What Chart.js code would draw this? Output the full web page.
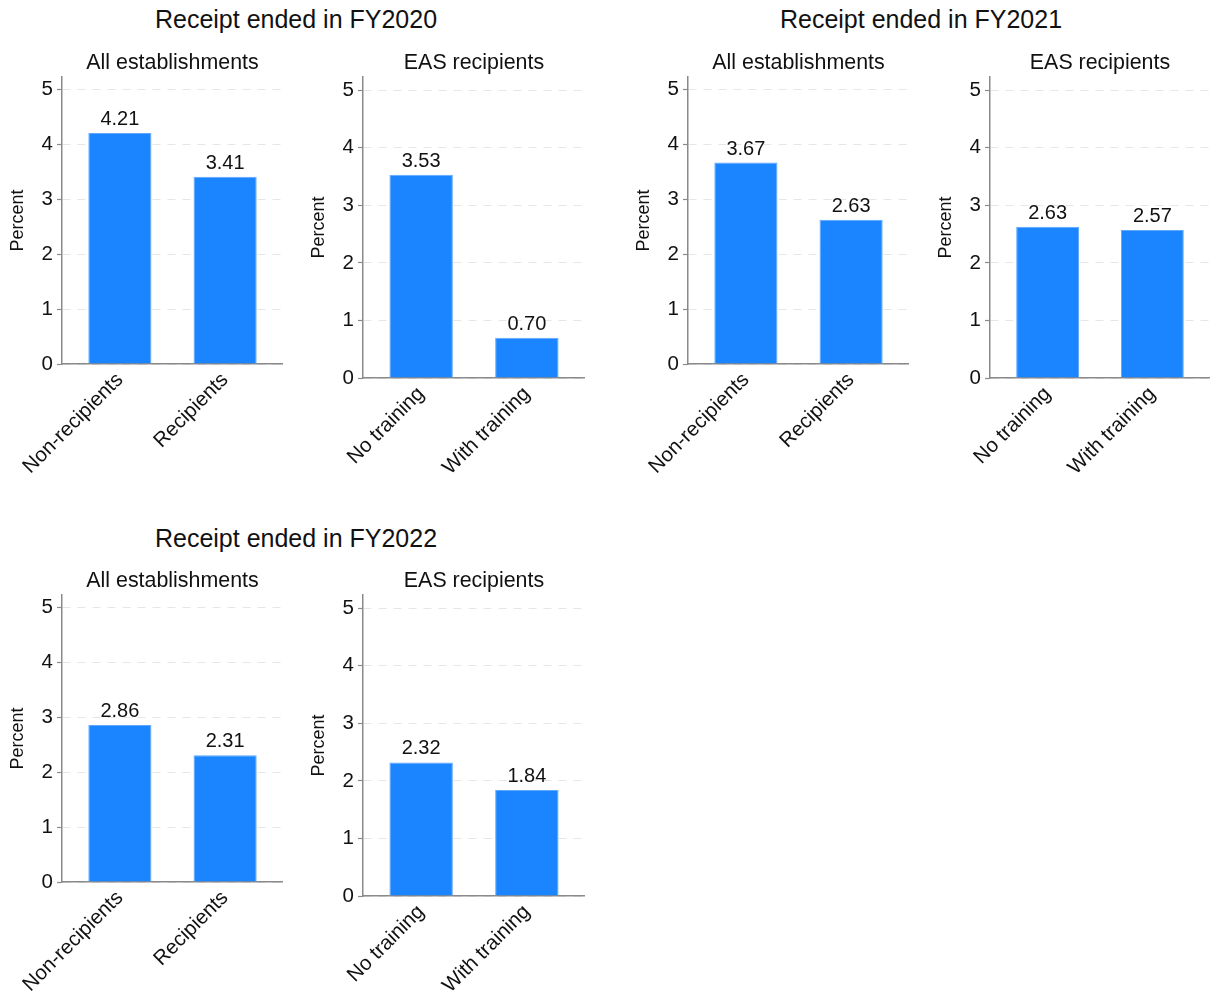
<!DOCTYPE html>
<html><head><meta charset="utf-8">
<script src="https://cdn.jsdelivr.net/npm/chart.js@4/dist/chart.umd.min.js"></script>
<style>
html,body{margin:0;padding:0;background:#fff;width:1210px;height:994px;overflow:hidden;position:relative;font-family:"Liberation Sans",Arial,Helvetica,sans-serif;}
canvas{position:absolute;}
.sup{position:absolute;font-size:25px;color:#111;white-space:nowrap;transform:translate(-50%,-50%);line-height:1;}
</style></head><body>
<script>
// ---- data ----
const groupTitles = ["Receipt ended in FY2020", "Receipt ended in FY2021", "Receipt ended in FY2022"];
const panelTitles = ["All establishments", "EAS recipients"];
const allCategories = ["Non-recipients", "Recipients"];
const easCategories = ["No training", "With training"];
const allFY2020 = [4.21, 3.41];
const easFY2020 = [3.53, 0.70];
const allFY2021 = [3.67, 2.63];
const easFY2021 = [2.63, 2.57];
const allFY2022 = [2.86, 2.31];
const easFY2022 = [2.32, 1.84];
const yTicks = [0, 1, 2, 3, 4, 5];
const yAxisTitle = "Percent";

// ---- layout (positions only) ----
const FONT = '"Liberation Sans", Arial, Helvetica, sans-serif';
Chart.defaults.font.family = FONT;
Chart.defaults.color = '#111';

const supers = [
  {text: groupTitles[0], x: 296, y: 19},
  {text: groupTitles[1], x: 921, y: 19},
  {text: groupTitles[2], x: 296, y: 538}
];
supers.forEach(s => {
  const d = document.createElement('div');
  d.className = 'sup';
  d.textContent = s.text;
  d.style.left = s.x + 'px';
  d.style.top = s.y + 'px';
  document.body.appendChild(d);
});

const panels = [
  {title: panelTitles[0], cats: allCategories, vals: allFY2020, box: [62, 283, 77, 364]},
  {title: panelTitles[1], cats: easCategories, vals: easFY2020, box: [363, 585, 77, 378]},
  {title: panelTitles[0], cats: allCategories, vals: allFY2021, box: [688, 909, 77, 364]},
  {title: panelTitles[1], cats: easCategories, vals: easFY2021, box: [990, 1210, 77, 378]},
  {title: panelTitles[0], cats: allCategories, vals: allFY2022, box: [62, 283, 595, 882]},
  {title: panelTitles[1], cats: easCategories, vals: easFY2022, box: [363, 585, 595, 896]}
];

const valueLabels = {
  id: 'valueLabels',
  afterDatasetsDraw(chart) {
    const ctx = chart.ctx;
    const meta = chart.getDatasetMeta(0);
    const ds = chart.data.datasets[0];
    ctx.save();
    ctx.font = '20px ' + FONT;
    ctx.fillStyle = '#111';
    ctx.textAlign = 'center';
    ctx.textBaseline = 'alphabetic';
    meta.data.forEach((el, i) => {
      ctx.fillText(ds.data[i].y.toFixed(2), el.x, el.y - 8);
    });
    ctx.restore();
  }
};

const Y_W = 62, TITLE_H = 40, X_H = 122;
panels.forEach(p => {
  const [L, R, T, B] = p.box;
  const cl = L - Y_W, ct = T - TITLE_H;
  const cw = R - cl, ch = B - ct + X_H;
  const cv = document.createElement('canvas');
  cv.width = cw; cv.height = ch;
  cv.style.left = cl + 'px'; cv.style.top = ct + 'px';
  cv.style.width = cw + 'px'; cv.style.height = ch + 'px';
  document.body.appendChild(cv);
  new Chart(cv, {
    type: 'bar',
    data: {
      datasets: [{
        data: p.vals.map((v, i) => ({x: i, y: v})),
        backgroundColor: '#1a85ff',
        borderColor: '#5ea8ff',
        borderWidth: 1,
        barPercentage: 0.6,
        categoryPercentage: 1
      }]
    },
    options: {
      responsive: false,
      animation: false,
      devicePixelRatio: 1,
      layout: {padding: 0},
      plugins: {
        legend: {display: false},
        tooltip: {enabled: false},
        title: {
          display: true, text: p.title, fullSize: false,
          font: {size: 21.4, weight: 'normal'}, color: '#111',
          padding: {top: 12.8, bottom: 1.5}
        }
      },
      scales: {
        x: {
          type: 'linear', min: -0.55, max: 1.55, offset: false,
          afterBuildTicks: s => { s.ticks = p.cats.map((c, i) => ({value: i})); },
          grid: {display: false, drawTicks: false, offset: false},
          border: {display: true, color: '#8a8a8a', width: 1.5},
          ticks: {
            minRotation: 45, maxRotation: 45, padding: 4, autoSkip: false,
            font: {size: 20.5}, color: '#111',
            callback: v => p.cats[v]
          },
          afterFit: s => { s.height = X_H; }
        },
        y: {
          min: 0, max: 5.23,
          afterBuildTicks: s => { s.ticks = yTicks.map(v => ({value: v})); },
          grid: {color: '#e6e6e6', lineWidth: 1, tickLength: 5, tickColor: '#8a8a8a', tickWidth: 1.2},
          border: {display: true, color: '#8a8a8a', width: 1.5, dash: [8, 7]},
          ticks: {padding: 4, font: {size: 20.5}, color: '#111'},
          title: {display: true, text: yAxisTitle, font: {size: 18}, color: '#111', padding: {top: 7.5, bottom: 0}},
          afterFit: s => { s.width = Y_W; }
        }
      }
    },
    plugins: [valueLabels]
  });
});
</script>
</body></html>
